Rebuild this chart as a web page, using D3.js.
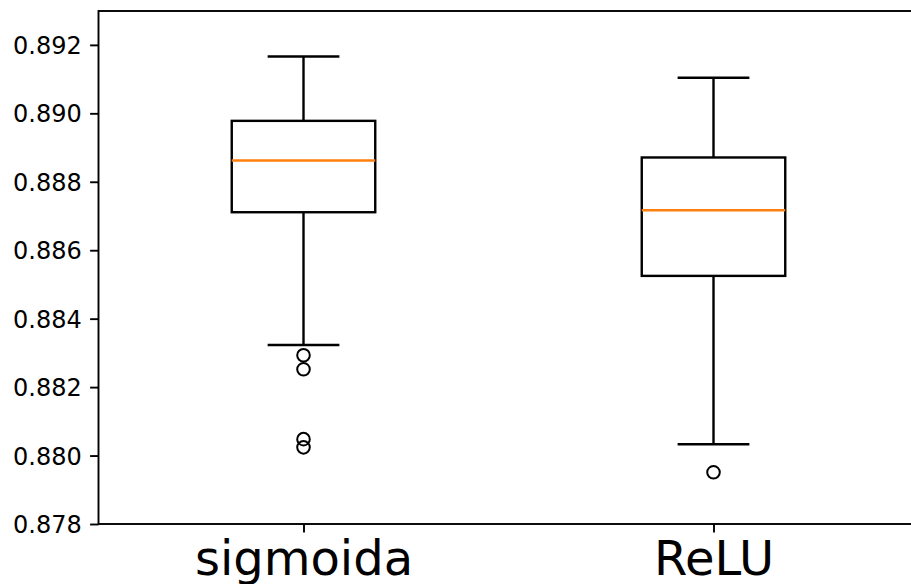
<!DOCTYPE html>
<html>
<head>
<meta charset="utf-8">
<script src="https://cdn.jsdelivr.net/npm/d3@7"></script>
<style>
  html, body { margin: 0; padding: 0; background: #fff; }
  svg { display: block; }
</style>
</head>
<body>
<svg id="chart" width="911" height="584"></svg>
<script>
// Box plot statistics per activation function
const categories    = ["sigmoida", "ReLU"];
const upperWhisker  = [0.89166, 0.89104];
const q3            = [0.88978, 0.88871];
const median        = [0.88862, 0.88717];
const q1            = [0.88711, 0.88525];
const lowerWhisker  = [0.88323, 0.88033];
const outliersSig   = [0.88293, 0.88252, 0.88048, 0.88024];
const outliersReLU  = [0.87951];
const outliers      = [outliersSig, outliersReLU];
const yTicks        = [0.878, 0.880, 0.882, 0.884, 0.886, 0.888, 0.890, 0.892];

const svg = d3.select("#chart");
const plotLeft = 98.5, plotRight = 918.5, plotTop = 11, plotBottom = 524;

const positions = categories.map((d, i) => i + 1);
const x = d3.scaleLinear().domain([0.5, 2.5]).range([plotLeft, plotRight]);
const y = d3.scaleLinear().domain([0.878, 0.89299]).range([plotBottom, plotTop]);

const boxW = 0.35;            // box width in x units
const capW = boxW / 2;        // cap width
const lw = 2.4;               // box line width
const font = "'DejaVu Sans', 'Liberation Sans', sans-serif";

const g = svg.append("g");

// whiskers, caps, boxes, medians, fliers
categories.forEach((c, i) => {
  const p = positions[i];
  const grp = g.append("g").attr("class", "box");
  grp.append("line")
    .attr("x1", x(p)).attr("x2", x(p))
    .attr("y1", y(q3[i])).attr("y2", y(upperWhisker[i]))
    .attr("stroke", "#000").attr("stroke-width", lw);
  grp.append("line")
    .attr("x1", x(p)).attr("x2", x(p))
    .attr("y1", y(q1[i])).attr("y2", y(lowerWhisker[i]))
    .attr("stroke", "#000").attr("stroke-width", lw);
  [upperWhisker[i], lowerWhisker[i]].forEach(v => {
    grp.append("line")
      .attr("x1", x(p - capW / 2)).attr("x2", x(p + capW / 2))
      .attr("y1", y(v)).attr("y2", y(v))
      .attr("stroke", "#000").attr("stroke-width", lw);
  });
  grp.append("rect")
    .attr("x", x(p - boxW / 2))
    .attr("y", y(q3[i]))
    .attr("width", x(p + boxW / 2) - x(p - boxW / 2))
    .attr("height", y(q1[i]) - y(q3[i]))
    .attr("fill", "none").attr("stroke", "#000").attr("stroke-width", lw);
  grp.append("line")
    .attr("x1", x(p - boxW / 2)).attr("x2", x(p + boxW / 2))
    .attr("y1", y(median[i])).attr("y2", y(median[i]))
    .attr("stroke", "#ff7f0e").attr("stroke-width", lw);
  grp.selectAll("circle.flier")
    .data(outliers[i])
    .join("circle")
    .attr("class", "flier")
    .attr("cx", x(p))
    .attr("cy", d => y(d))
    .attr("r", 6.3)
    .attr("fill", "none")
    .attr("stroke", "#000")
    .attr("stroke-width", 2);
});

// axes
const yAxis = d3.axisLeft(y)
  .tickValues(yTicks)
  .tickFormat(d3.format(".3f"))
  .tickSize(8.4)
  .tickPadding(8.4);
const yg = svg.append("g").attr("transform", `translate(${plotLeft},0)`).call(yAxis);
yg.select(".domain").remove();
yg.selectAll(".tick line").attr("stroke", "#000").attr("stroke-width", 1.9);
yg.selectAll(".tick text")
  .attr("fill", "#000")
  .style("font-family", font)
  .style("font-size", "24px")
  .attr("dy", "0.36em");

const xAxis = d3.axisBottom(x)
  .tickValues(positions)
  .tickFormat((d, i) => categories[i])
  .tickSize(8.4)
  .tickPadding(8.4);
const xg = svg.append("g").attr("transform", `translate(0,${plotBottom})`).call(xAxis);
xg.select(".domain").remove();
xg.selectAll(".tick line").attr("stroke", "#000").attr("stroke-width", 1.9);
xg.selectAll(".tick text")
  .attr("fill", "#000")
  .style("font-family", font)
  .style("font-size", "48px");

// spines
svg.append("rect")
  .attr("x", plotLeft).attr("y", plotTop)
  .attr("width", plotRight - plotLeft).attr("height", plotBottom - plotTop)
  .attr("fill", "none").attr("stroke", "#000").attr("stroke-width", 1.9);
</script>
</body>
</html>
